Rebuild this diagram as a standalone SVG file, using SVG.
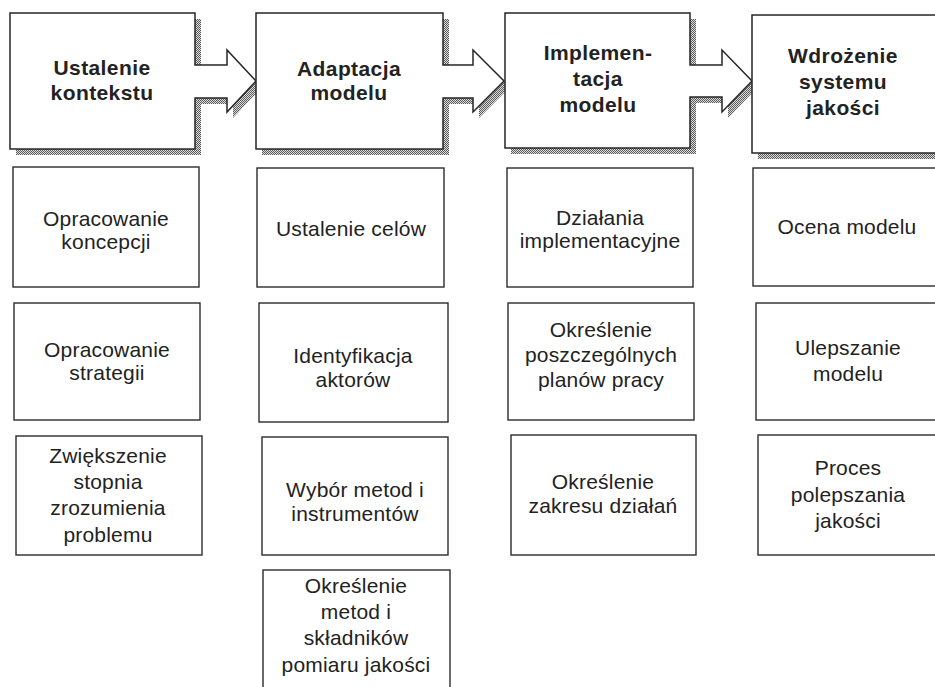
<svg xmlns="http://www.w3.org/2000/svg" width="935" height="687" viewBox="0 0 935 687">
  <defs>
    <!-- dithered grey used for the drop shadows of the stage boxes -->
    <pattern id="dither" width="2" height="2" patternUnits="userSpaceOnUse">
      <rect width="2" height="2" fill="#dcdcdc"/>
      <rect x="0" y="0" width="1" height="1" fill="#5a5a5a"/>
      <rect x="1" y="1" width="1" height="1" fill="#5a5a5a"/>
    </pattern>
  </defs>
  <style>
    .shape { fill: #ffffff; stroke: #262626; stroke-width: 1.5; stroke-linejoin: miter; }
    .shadow { fill: url(#dither); stroke: none; }
    .box { fill: #ffffff; stroke: #2b2b2b; stroke-width: 1.4; }
    .head { font-family: "Liberation Sans", Arial, sans-serif; font-weight: bold; font-size: 21px; fill: #222222; text-anchor: middle; letter-spacing: 0.4px; }
    .item { font-family: "Liberation Sans", Arial, sans-serif; font-size: 21px; fill: #222222; text-anchor: middle; letter-spacing: 0.2px; }
  </style>

  <rect width="935" height="687" fill="#ffffff"/>

  <!-- stage boxes; each carries an arrow pointing to the next stage -->
  <g id="stage1">
    <path class="shadow" transform="translate(6,6)" d="M10,13 H195 V65 H227 V50 L256,81 L227,112 V98 H195 V149 H10 Z"/>
    <path class="shape" d="M10,13 H195 V65 H227 V50 L256,81 L227,112 V98 H195 V149 H10 Z"/>
    <text class="head" x="102" y="75">Ustalenie</text>
    <text class="head" x="102" y="100">kontekstu</text>
  </g>
  <g id="stage2">
    <path class="shadow" transform="translate(6,6)" d="M256,13 H443 V65 H473 V50 L504,81 L473,112 V98 H443 V149 H256 Z"/>
    <path class="shape" d="M256,13 H443 V65 H473 V50 L504,81 L473,112 V98 H443 V149 H256 Z"/>
    <text class="head" x="349" y="76">Adaptacja</text>
    <text class="head" x="349" y="100">modelu</text>
  </g>
  <g id="stage3">
    <path class="shadow" transform="translate(6,6)" d="M505,13 H690 V65 H722 V50 L752,81 L722,112 V97 H690 V148 H505 Z"/>
    <path class="shape" d="M505,13 H690 V65 H722 V50 L752,81 L722,112 V97 H690 V148 H505 Z"/>
    <text class="head" x="598" y="60">Implemen-</text>
    <text class="head" x="598" y="86">tacja</text>
    <text class="head" x="598" y="112">modelu</text>
  </g>
  <g id="stage4">
    <path class="shadow" transform="translate(6,6)" d="M752,15 H945 V153 H752 Z"/>
    <path class="shape" d="M752,15 H945 V153 H752 Z"/>
    <text class="head" x="843" y="63">Wdrożenie</text>
    <text class="head" x="843" y="89">systemu</text>
    <text class="head" x="843" y="115">jakości</text>
  </g>

  <!-- column 1: Ustalenie kontekstu -->
  <g id="c1-1">
    <rect class="box" x="13" y="167" width="186" height="120"/>
    <text class="item" x="106" y="226">Opracowanie</text>
    <text class="item" x="106" y="249">koncepcji</text>
  </g>
  <g id="c1-2">
    <rect class="box" x="14" y="303" width="186" height="117"/>
    <text class="item" x="107" y="357">Opracowanie</text>
    <text class="item" x="107" y="380">strategii</text>
  </g>
  <g id="c1-3">
    <rect class="box" x="16" y="436" width="186" height="119"/>
    <text class="item" x="108" y="463">Zwiększenie</text>
    <text class="item" x="108" y="489">stopnia</text>
    <text class="item" x="108" y="515">zrozumienia</text>
    <text class="item" x="108" y="542">problemu</text>
  </g>

  <!-- column 2: Adaptacja modelu -->
  <g id="c2-1">
    <rect class="box" x="257" y="168" width="187" height="119"/>
    <text class="item" x="351" y="236">Ustalenie celów</text>
  </g>
  <g id="c2-2">
    <rect class="box" x="259" y="303" width="189" height="119"/>
    <text class="item" x="353" y="363">Identyfikacja</text>
    <text class="item" x="353" y="387">aktorów</text>
  </g>
  <g id="c2-3">
    <rect class="box" x="262" y="437" width="186" height="118"/>
    <text class="item" x="355" y="497">Wybór metod i</text>
    <text class="item" x="355" y="521">instrumentów</text>
  </g>
  <g id="c2-4">
    <rect class="box" x="263" y="570" width="187" height="122"/>
    <text class="item" x="356" y="593">Określenie</text>
    <text class="item" x="356" y="619">metod i</text>
    <text class="item" x="356" y="645">składników</text>
    <text class="item" x="356" y="672">pomiaru jakości</text>
  </g>

  <!-- column 3: Implementacja modelu -->
  <g id="c3-1">
    <rect class="box" x="507" y="168" width="186" height="119"/>
    <text class="item" x="600" y="225">Działania</text>
    <text class="item" x="600" y="248">implementacyjne</text>
  </g>
  <g id="c3-2">
    <rect class="box" x="508" y="303" width="186" height="117"/>
    <text class="item" x="601" y="337">Określenie</text>
    <text class="item" x="601" y="362">poszczególnych</text>
    <text class="item" x="601" y="387">planów pracy</text>
  </g>
  <g id="c3-3">
    <rect class="box" x="511" y="435" width="185" height="120"/>
    <text class="item" x="603" y="489">Określenie</text>
    <text class="item" x="603" y="513">zakresu działań</text>
  </g>

  <!-- column 4: Wdrożenie systemu jakości -->
  <g id="c4-1">
    <rect class="box" x="753" y="168" width="195" height="118"/>
    <text class="item" x="847" y="234">Ocena modelu</text>
  </g>
  <g id="c4-2">
    <rect class="box" x="756" y="303" width="195" height="117"/>
    <text class="item" x="848" y="355">Ulepszanie</text>
    <text class="item" x="848" y="381">modelu</text>
  </g>
  <g id="c4-3">
    <rect class="box" x="758" y="435" width="195" height="120"/>
    <text class="item" x="848" y="475">Proces</text>
    <text class="item" x="848" y="502">polepszania</text>
    <text class="item" x="848" y="528">jakości</text>
  </g>

  <!-- stages are linked by the arrow shapes drawn with each stage box -->
  <g id="connectors"/>
</svg>
